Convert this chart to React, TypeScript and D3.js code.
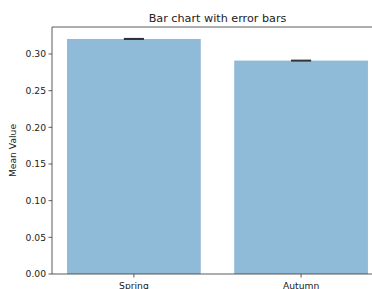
import React from "react";
import * as d3 from "d3";

const categories = ["Spring", "Autumn"];
const means = [0.3205, 0.291];
const errors = [0.0004, 0.0003];
const yTicks = [0, 0.05, 0.1, 0.15, 0.2, 0.25, 0.3];

const W = 372;
const H = 289;
const M = { left: 52, right: 383, top: 27, bottom: 274 };

export default function App() {
  const x = d3.scaleLinear().domain([-0.49, 1.49]).range([M.left, M.right]);
  const y = d3.scaleLinear().domain([0, 0.3368]).range([M.bottom, M.top]);
  const font = "DejaVu Sans, sans-serif";
  const barW = x(0.8) - x(0);
  const capHalf = 10;
  return (
    <svg
      width={W}
      height={H}
      viewBox={`0 0 ${W} ${H}`}
      overflow="hidden"
      style={{ position: "fixed", left: 0, top: 0, background: "#fff", display: "block" }}
      fontFamily={font}
    >
      <text x={(M.left + M.right) / 2} y={22} fontSize={11.2} textAnchor="middle" fill="#222">
        Bar chart with error bars
      </text>
      {categories.map((c, i) => (
        <g key={c}>
          <rect
            x={x(i) - barW / 2}
            y={y(means[i])}
            width={barW}
            height={y(0) - y(means[i])}
            fill="#8fbbd9"
          />
          <line
            x1={x(i)}
            x2={x(i)}
            y1={y(means[i] - errors[i])}
            y2={y(means[i] + errors[i])}
            stroke="#333"
            strokeWidth={1.5}
          />
          <line
            x1={x(i) - capHalf}
            x2={x(i) + capHalf}
            y1={y(means[i] + errors[i])}
            y2={y(means[i] + errors[i])}
            stroke="#333"
            strokeWidth={1.5}
          />
          <line
            x1={x(i) - capHalf}
            x2={x(i) + capHalf}
            y1={y(means[i] - errors[i])}
            y2={y(means[i] - errors[i])}
            stroke="#333"
            strokeWidth={1.5}
          />
          <line x1={x(i)} x2={x(i)} y1={M.bottom} y2={M.bottom + 3.5} stroke="#333" strokeWidth={0.8} />
          <text x={x(i)} y={M.bottom + 15} fontSize={9.2} textAnchor="middle" fill="#222">
            {c}
          </text>
        </g>
      ))}
      {yTicks.map((t) => (
        <g key={t}>
          <line x1={M.left - 3.5} x2={M.left} y1={y(t)} y2={y(t)} stroke="#333" strokeWidth={0.8} />
          <text x={M.left - 6} y={y(t)} dy="0.35em" fontSize={9.2} textAnchor="end" fill="#222">
            {t.toFixed(2)}
          </text>
        </g>
      ))}
      <line x1={M.left} x2={W} y1={M.top} y2={M.top} stroke="#333" strokeWidth={0.8} />
      <line x1={M.left} x2={W} y1={M.bottom} y2={M.bottom} stroke="#333" strokeWidth={0.8} />
      <line x1={M.left} x2={M.left} y1={M.top} y2={M.bottom} stroke="#333" strokeWidth={0.8} />
      <text
        transform={`translate(16,${(M.top + M.bottom) / 2}) rotate(-90)`}
        fontSize={9.2}
        textAnchor="middle"
        fill="#222"
      >
        Mean Value
      </text>
    </svg>
  );
}
